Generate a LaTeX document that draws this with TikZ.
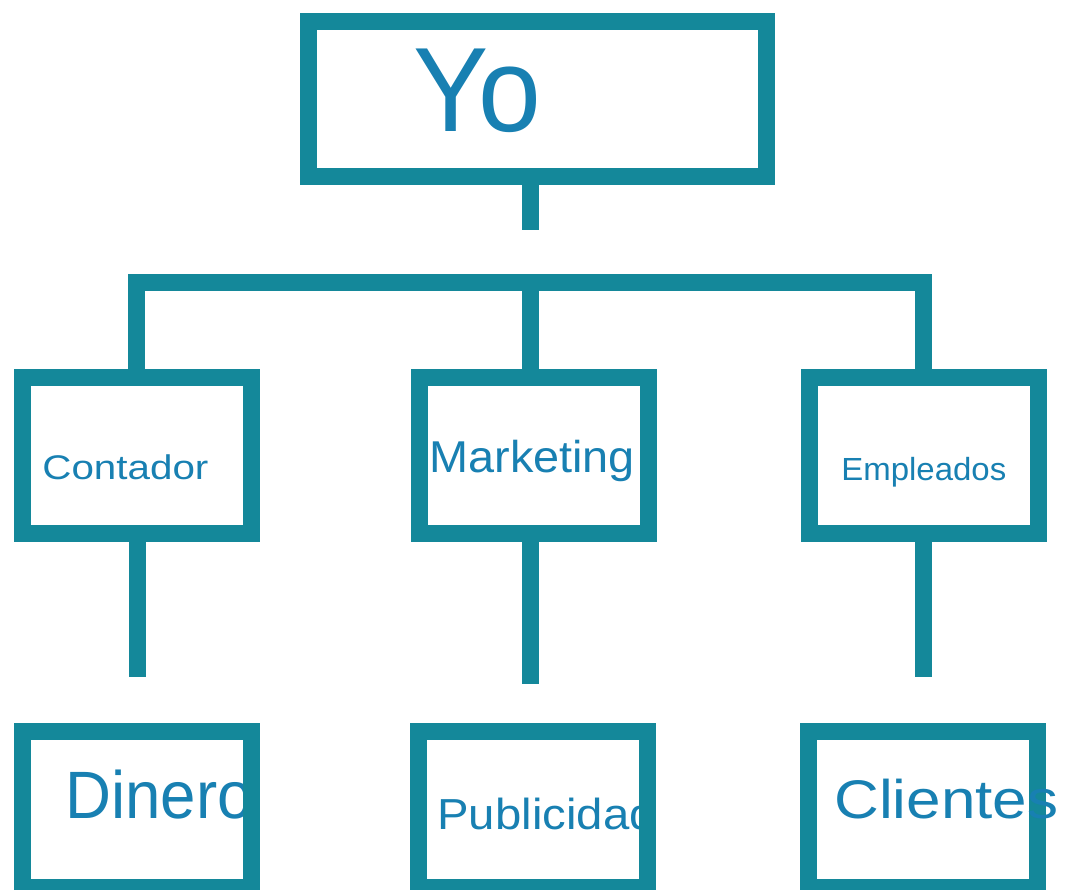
\documentclass[tikz,border=0pt]{standalone}
\usepackage{fontspec}
\setmainfont{Liberation Sans}
\usepackage{xcolor}
\usepackage{tikz}
\usetikzlibrary{positioning}

\definecolor{verdeazul}{RGB}{20,136,154}
\definecolor{azultexto}{RGB}{24,128,178}

\tikzset{
  caja/.style={draw=verdeazul, line width=8.5pt, minimum width=114.5pt,
    minimum height=78pt, inner sep=0pt},
  linea/.style={draw=verdeazul, line width=8.5pt},
  texto/.style={text=azultexto, anchor=base west, inner sep=0pt}
}
\newcommand{\etiq}[3]{\fontsize{#1}{#1}\selectfont\scalebox{#2}[1]{#3}}

\begin{document}
\begin{tikzpicture}[x=0.5pt,y=-0.5pt]

  \fill[white] (0,0) rectangle (1067,890);
  \clip (0,0) rectangle (1067,890);

  % textos que quedan debajo del borde
  \node[texto] (tdinero) at (65,818) {\etiq{33.5pt}{0.95}{Dinero}};
  \node[texto] (tpublicidad) at (437,829) {\etiq{21.7pt}{1.09}{Publicidad}};

  \node[caja, minimum width=229pt, minimum height=77.5pt] (yo) at (537.5,99) {};
  \node[caja] (contador) at (136.5,455) {};
  \node[caja] (marketing) at (533.75,455) {};
  \node[caja] (empleados) at (923.5,455) {};
  \node[caja] (dinero) at (137,809.5) {};
  \node[caja] (publicidad) at (533.25,809.5) {};
  \node[caja] (clientes) at (923.25,809.5) {};

  \node[texto] (tyo) at (413,131) {\etiq{60pt}{0.94}{Yo}};
  \node[texto] (tcontador) at (42,479) {\etiq{17.1pt}{1.18}{Contador}};
  \node[texto] (tmarketing) at (429,472) {\etiq{22.3pt}{1.05}{Marketing}};
  \node[texto] (templeados) at (841,480) {\etiq{16pt}{1.03}{Empleados}};
  \node[texto] (tclientes) at (834,818) {\etiq{27.2pt}{1.14}{Clientes}};

  \coordinate (tallo) at (530,230);
  \coordinate (barra) at (530,282.5);
  \coordinate (fin1) at (137,677);
  \coordinate (fin2) at (530,684);
  \coordinate (fin3) at (923.5,677);

  \draw[linea] (tallo |- yo.south) -- (tallo);
  \draw[linea] (contador.north) |- (barra) -| (empleados.north);
  \draw[linea] (barra) -- (barra |- marketing.north);

  \draw[linea] (fin1 |- contador.south) -- (fin1);
  \draw[linea] (fin2 |- marketing.south) -- (fin2);
  \draw[linea] (fin3 |- empleados.south) -- (fin3);

\end{tikzpicture}
\end{document}
